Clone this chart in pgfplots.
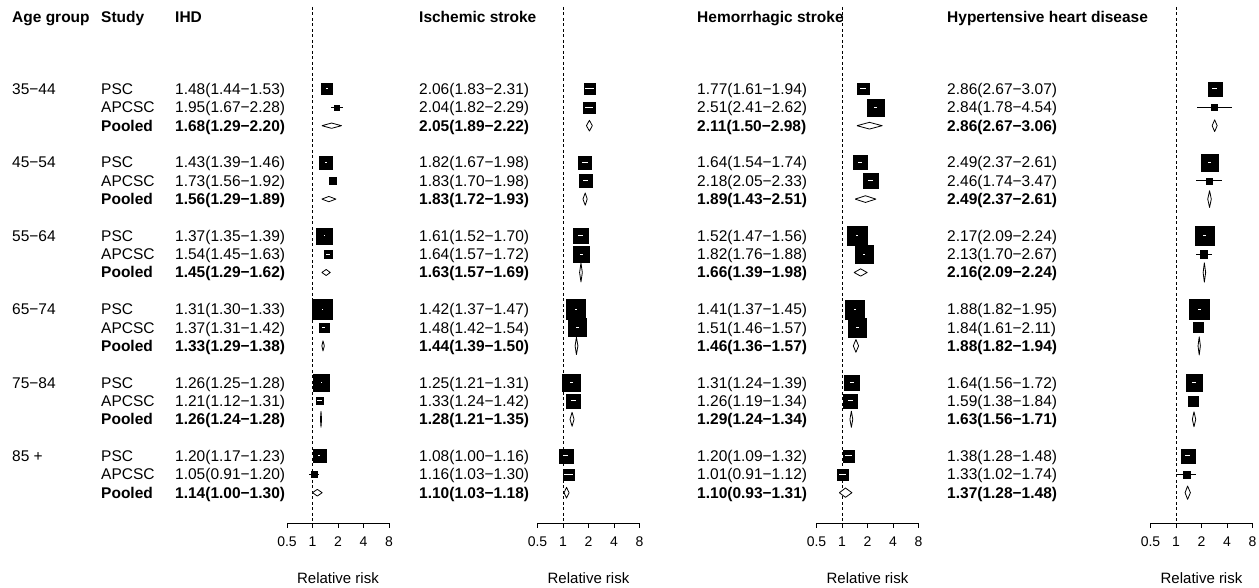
\documentclass[border=0pt]{standalone}
\usepackage{pgfplots}
\pgfplotsset{compat=1.18}
\usepackage{pgfplotstable}
\usepackage{fontspec}
\setmainfont{Liberation Sans}
\newcommand\mytf{\fontsize{15.5}{18}\selectfont}
\newcommand\tl[1]{\mbox{\fontsize{14}{14}\selectfont #1}}

% ---- study rows: y (px from top), estimate, CI, box size (px), k=1 if CI wider than box
\pgfplotstableread{
y est lo hi s k
89     1.48 1.44 1.53 10.7 0
107.35 1.95 1.67 2.28 5.0 1
162.4  1.43 1.39 1.46 12.7 0
180.75 1.73 1.56 1.92 6.7 1
235.8  1.37 1.35 1.39 16.0 0
254.15 1.54 1.45 1.63 8.3 0
309.2  1.31 1.30 1.33 19.7 0
327.55 1.37 1.31 1.42 9.3 0
382.6  1.26 1.25 1.28 16.7 0
400.95 1.21 1.12 1.31 7.3 0
456    1.20 1.17 1.23 13.0 0
474.35 1.05 0.91 1.20 5.7 1
}\tA
\pgfplotstableread{
y est lo hi h
125.7 1.68 1.29 2.20 5.3
199.1 1.56 1.29 1.89 5.3
272.5 1.45 1.29 1.62 6.0
345.9 1.33 1.29 1.38 10.0
419.3 1.26 1.24 1.28 16.0
492.7 1.14 1.00 1.30 6.7
}\pA
\pgfplotstableread{
y est lo hi s k
89     2.06 1.83 2.31 11.3 0
107.35 2.04 1.82 2.29 11.3 0
162.4  1.82 1.67 1.98 13.0 0
180.75 1.83 1.70 1.98 13.0 0
235.8  1.61 1.52 1.70 15.3 0
254.15 1.64 1.57 1.72 16.7 0
309.2  1.42 1.37 1.47 19.3 0
327.55 1.48 1.42 1.54 18.0 0
382.6  1.25 1.21 1.31 17.3 0
400.95 1.33 1.24 1.42 14.0 0
456    1.08 1.00 1.16 14.3 0
474.35 1.16 1.03 1.30 11.3 0
}\tB
\pgfplotstableread{
y est lo hi h
125.7 2.05 1.89 2.22 10.7
199.1 1.83 1.72 1.93 12.3
272.5 1.63 1.57 1.69 19.0
345.9 1.44 1.39 1.50 17.3
419.3 1.28 1.21 1.35 14.0
492.7 1.10 1.03 1.18 10.7
}\pB
\pgfplotstableread{
y est lo hi s k
89     1.77 1.61 1.94 11.3 0
107.35 2.51 2.41 2.62 16.7 0
162.4  1.64 1.54 1.74 14.3 0
180.75 2.18 2.05 2.33 14.3 0
235.8  1.52 1.47 1.56 19.7 0
254.15 1.82 1.76 1.88 17.7 0
309.2  1.41 1.37 1.45 19.0 0
327.55 1.51 1.46 1.57 18.3 0
382.6  1.31 1.24 1.39 14.7 0
400.95 1.26 1.19 1.34 14.0 0
456    1.20 1.09 1.32 11.7 0
474.35 1.01 0.91 1.12 10.7 0
}\tC
\pgfplotstableread{
y est lo hi h
125.7 2.11 1.50 2.98 6.7
199.1 1.89 1.43 2.51 6.7
272.5 1.66 1.39 1.98 7.3
345.9 1.46 1.36 1.57 12.7
419.3 1.29 1.24 1.34 16.0
492.7 1.10 0.93 1.31 9.3
}\pC
\pgfplotstableread{
y est lo hi s k
89     2.86 2.67 3.07 14.0 0
107.35 2.84 1.78 4.54 6.0 1
162.4  2.49 2.37 2.61 16.7 0
180.75 2.46 1.74 3.47 6.0 1
235.8  2.17 2.09 2.24 19.0 0
254.15 2.13 1.70 2.67 7.3 1
309.2  1.88 1.82 1.95 20.0 0
327.55 1.84 1.61 2.11 10.0 1
382.6  1.64 1.56 1.72 16.7 0
400.95 1.59 1.38 1.84 10.0 1
456    1.38 1.28 1.48 13.7 0
474.35 1.33 1.02 1.74 6.7 1
}\tD
\pgfplotstableread{
y est lo hi h
125.7 2.86 2.67 3.06 11.7
199.1 2.49 2.37 2.61 16.7
272.5 2.16 2.09 2.24 19.3
345.9 1.88 1.82 1.94 18.3
419.3 1.63 1.56 1.71 15.0
492.7 1.37 1.28 1.48 13.3
}\pD

\pgfplotsset{
 dia/.style={draw=black, fill=white, line width=0.8pt, mark=none, line join=round},
 ci/.style={draw=none, mark=none, error bars/x dir=both, error bars/x explicit, error bars/error mark=none},
}

\newcommand\drawdiamonds[1]{%
 \pgfplotsinvokeforeach{0,...,5}{%
  \pgfplotstablegetelem{##1}{lo}\of#1\let\dlo\pgfplotsretval
  \pgfplotstablegetelem{##1}{est}\of#1\let\dest\pgfplotsretval
  \pgfplotstablegetelem{##1}{hi}\of#1\let\dhi\pgfplotsretval
  \pgfplotstablegetelem{##1}{y}\of#1\let\dy\pgfplotsretval
  \pgfplotstablegetelem{##1}{h}\of#1\let\dh\pgfplotsretval
  \pgfmathsetmacro\dyc{-\dy}\pgfmathsetmacro\dyt{-\dy+\dh/2}\pgfmathsetmacro\dyb{-\dy-\dh/2}%
  \edef\dtmp{\noexpand\addplot[dia] coordinates {(\dlo,\dyc) (\dest,\dyt) (\dhi,\dyc) (\dest,\dyb) (\dlo,\dyc)};}\dtmp
 }}

\newcommand\forest[3]{%
\begin{axis}[anchor=south west, at={(#1pt,65pt)}, scale only axis, width=102pt, height=516pt,
   xmode=log, log basis x=2, xmin=0.5, xmax=8, ymin=-523, ymax=-7,
   axis x line=bottom, axis y line=none, axis line style={-, line width=0.7pt, black},
   xtick={0.5,1,2,4,8}, xticklabels={\tl{0.5},\tl{1},\tl{2},\tl{4},\tl{8}}, xminorticks=false,
   tick align=outside, major tick length=5pt, tick style={line width=0.7pt, black},
   xticklabel style={yshift=-5pt},
   xlabel={Relative risk},
   xlabel style={font=\fontsize{15}{15}\selectfont, at={(axis description cs:0.5,0)}, anchor=center, yshift=-55pt},
   clip=false, clip marker paths=true]
 \addplot[black, line width=1pt, dash pattern=on 3pt off 2.5pt] coordinates {(1,-7) (1,-523)};
 \addplot[ci, error bars/error bar style={draw=black, line width=1pt}]
   table[x=est, y expr=-\thisrow{y}, x error plus expr=\thisrow{hi}-\thisrow{est}, x error minus expr=\thisrow{est}-\thisrow{lo}] {#2};
 \addplot[scatter, only marks, mark=square*, mark options={line width=0.3pt},
   scatter/use mapped color={draw=black, fill=black},
   visualization depends on={\thisrow{s}/2 \as \msz},
   scatter/@pre marker code/.append style={/tikz/mark size=\msz pt}]
   table[x=est, y expr=-\thisrow{y}] {#2};
 % CI lines that lie inside their box are drawn in white over it
 \addplot[ci, error bars/error bar style={draw=white, line width=1pt}]
   table[x=est, y expr=-\thisrow{y}, x error plus expr={(1-\thisrow{k})*(\thisrow{hi}-\thisrow{est})}, x error minus expr={(1-\thisrow{k})*(\thisrow{est}-\thisrow{lo})}] {#2};
 \drawdiamonds{#3}
\end{axis}}

\newcommand\trip[5]{%
 \node at (#1,#2) {#3};
 \node at (#1,#2+18.35) {#4};
 \node at (#1,#2+36.7) {\bfseries #5};}

\begin{document}
\begin{tikzpicture}
\path[use as bounding box] (0,0) rectangle (1259pt,588pt);
\forest{287}{\tA}{\pA}
\forest{537.5}{\tB}{\pB}
\forest{816.5}{\tC}{\pC}
\forest{1150.5}{\tD}{\pD}
\begin{scope}[shift={(0pt,588pt)}, x=1pt, y=-1pt,
  every node/.style={anchor=west, inner sep=0pt, text height=11pt, text depth=0pt, font=\mytf}]
 \node at (12,17) {\bfseries Age group};
 \node at (101,17) {\bfseries Study};
 \node at (175,17) {\bfseries IHD};
 \node at (419,17) {\bfseries Ischemic stroke};
 \node at (697,17) {\bfseries Hemorrhagic stroke};
 \node at (947,17) {\bfseries Hypertensive heart disease};
 \node at (12,89) {35−44};
 \node at (12,162.4) {45−54};
 \node at (12,235.8) {55−64};
 \node at (12,309.2) {65−74};
 \node at (12,382.6) {75−84};
 \node at (12,456) {85 +};
 \foreach \yy in {89,162.4,235.8,309.2,382.6,456}{\trip{101}{\yy}{PSC}{APCSC}{Pooled}}
 % IHD
 \trip{175}{89}{1.48(1.44−1.53)}{1.95(1.67−2.28)}{1.68(1.29−2.20)}
 \trip{175}{162.4}{1.43(1.39−1.46)}{1.73(1.56−1.92)}{1.56(1.29−1.89)}
 \trip{175}{235.8}{1.37(1.35−1.39)}{1.54(1.45−1.63)}{1.45(1.29−1.62)}
 \trip{175}{309.2}{1.31(1.30−1.33)}{1.37(1.31−1.42)}{1.33(1.29−1.38)}
 \trip{175}{382.6}{1.26(1.25−1.28)}{1.21(1.12−1.31)}{1.26(1.24−1.28)}
 \trip{175}{456}{1.20(1.17−1.23)}{1.05(0.91−1.20)}{1.14(1.00−1.30)}
 % Ischemic
 \trip{419}{89}{2.06(1.83−2.31)}{2.04(1.82−2.29)}{2.05(1.89−2.22)}
 \trip{419}{162.4}{1.82(1.67−1.98)}{1.83(1.70−1.98)}{1.83(1.72−1.93)}
 \trip{419}{235.8}{1.61(1.52−1.70)}{1.64(1.57−1.72)}{1.63(1.57−1.69)}
 \trip{419}{309.2}{1.42(1.37−1.47)}{1.48(1.42−1.54)}{1.44(1.39−1.50)}
 \trip{419}{382.6}{1.25(1.21−1.31)}{1.33(1.24−1.42)}{1.28(1.21−1.35)}
 \trip{419}{456}{1.08(1.00−1.16)}{1.16(1.03−1.30)}{1.10(1.03−1.18)}
 % Hemorrhagic
 \trip{697}{89}{1.77(1.61−1.94)}{2.51(2.41−2.62)}{2.11(1.50−2.98)}
 \trip{697}{162.4}{1.64(1.54−1.74)}{2.18(2.05−2.33)}{1.89(1.43−2.51)}
 \trip{697}{235.8}{1.52(1.47−1.56)}{1.82(1.76−1.88)}{1.66(1.39−1.98)}
 \trip{697}{309.2}{1.41(1.37−1.45)}{1.51(1.46−1.57)}{1.46(1.36−1.57)}
 \trip{697}{382.6}{1.31(1.24−1.39)}{1.26(1.19−1.34)}{1.29(1.24−1.34)}
 \trip{697}{456}{1.20(1.09−1.32)}{1.01(0.91−1.12)}{1.10(0.93−1.31)}
 % Hypertensive
 \trip{947}{89}{2.86(2.67−3.07)}{2.84(1.78−4.54)}{2.86(2.67−3.06)}
 \trip{947}{162.4}{2.49(2.37−2.61)}{2.46(1.74−3.47)}{2.49(2.37−2.61)}
 \trip{947}{235.8}{2.17(2.09−2.24)}{2.13(1.70−2.67)}{2.16(2.09−2.24)}
 \trip{947}{309.2}{1.88(1.82−1.95)}{1.84(1.61−2.11)}{1.88(1.82−1.94)}
 \trip{947}{382.6}{1.64(1.56−1.72)}{1.59(1.38−1.84)}{1.63(1.56−1.71)}
 \trip{947}{456}{1.38(1.28−1.48)}{1.33(1.02−1.74)}{1.37(1.28−1.48)}
\end{scope}
\end{tikzpicture}
\end{document}
